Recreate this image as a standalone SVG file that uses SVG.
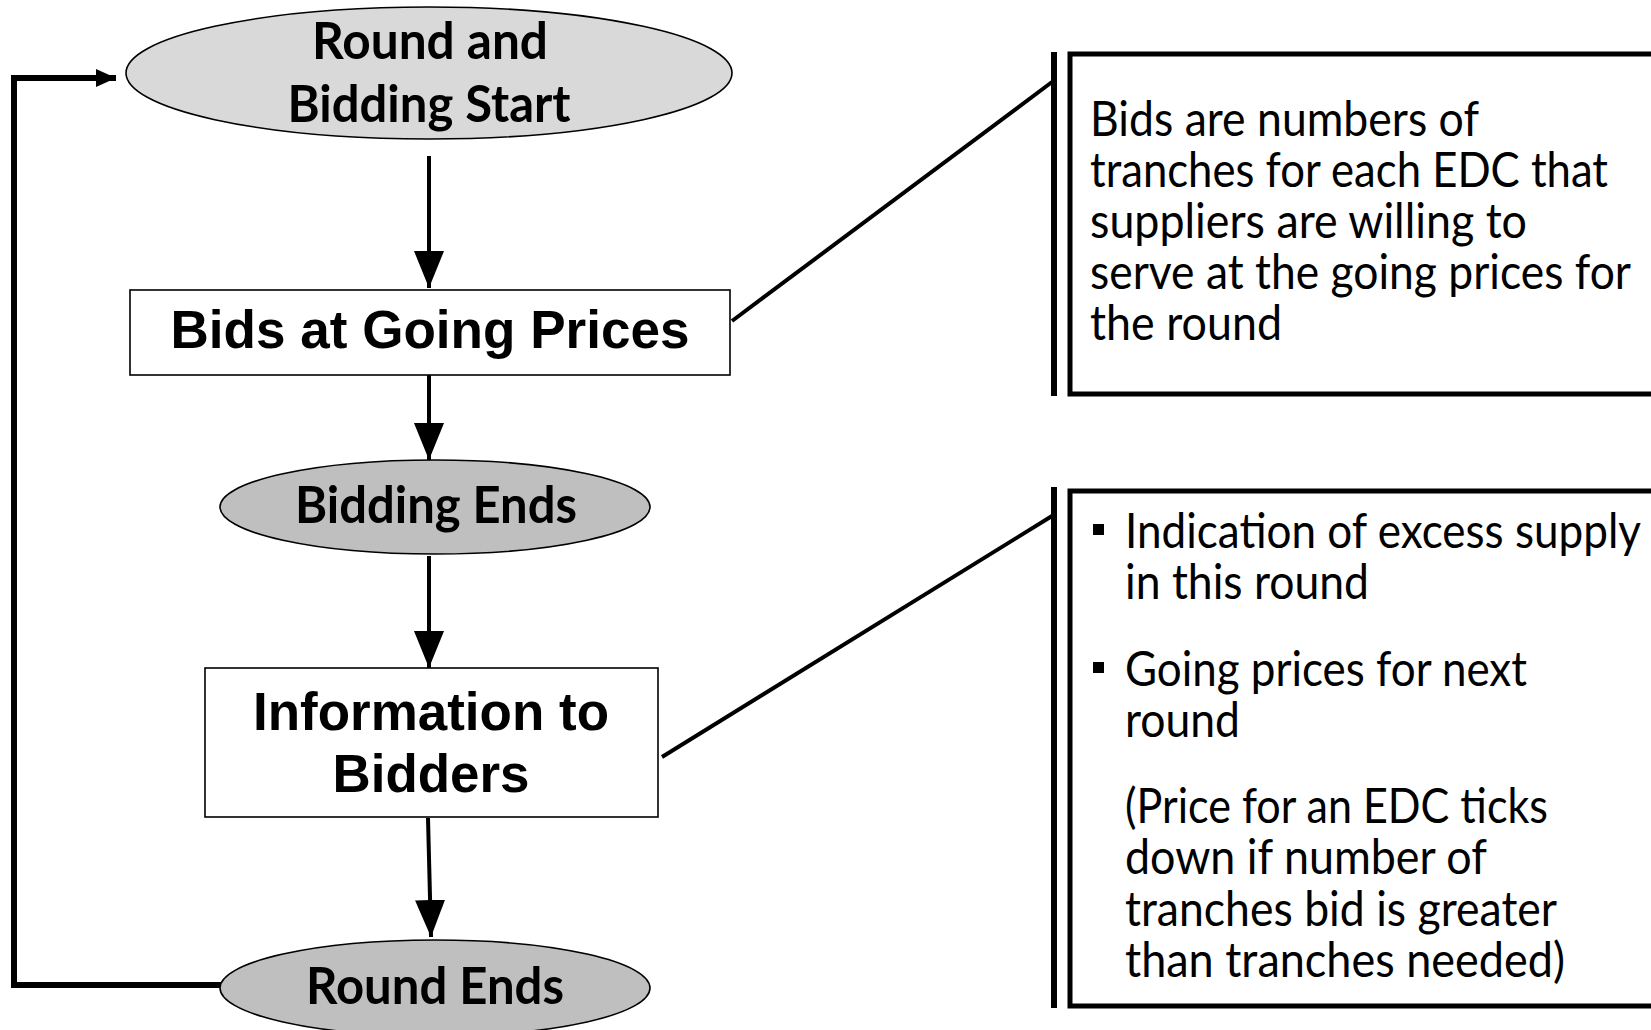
<svg xmlns="http://www.w3.org/2000/svg" width="1651" height="1030" viewBox="0 0 1651 1030">
<style>
.node{stroke:#000;stroke-width:1.6}
.t1{font-family:Lato,"Open Sans",sans-serif;font-weight:bold;font-size:52px;fill:#000;text-anchor:middle}
.t2{font-family:"Liberation Sans",Arial,sans-serif;font-weight:bold;font-size:53px;fill:#000;text-anchor:middle}
.t3{font-family:Lato,"Open Sans",sans-serif;font-size:48px;fill:#000}
.ar{stroke:#000;stroke-width:4;fill:none}
.cl{stroke:#000;stroke-width:4;fill:none}
.cb{stroke:#000;stroke-width:5;fill:#fff}
</style>
<defs>
<marker id="ah" markerUnits="userSpaceOnUse" markerWidth="37" markerHeight="30" viewBox="0 0 37 30" refX="37" refY="15" orient="auto"><path d="M0,0 L37,15 L0,30 z" fill="#000"/></marker>
<marker id="ahs" markerUnits="userSpaceOnUse" markerWidth="20" markerHeight="18" viewBox="0 0 20 18" refX="20" refY="9" orient="auto"><path d="M0,0 L20,9 L0,18 z" fill="#000"/></marker>
</defs>
<rect width="1651" height="1030" fill="#fff"/>
<g id="connectors">
<line class="ar" x1="429" y1="156" x2="429" y2="288" marker-end="url(#ah)"/>
<line class="ar" x1="429" y1="375" x2="429" y2="460" marker-end="url(#ah)"/>
<line class="ar" x1="429" y1="556" x2="429" y2="668" marker-end="url(#ah)"/>
<line class="ar" x1="428" y1="818" x2="431" y2="937" marker-end="url(#ah)"/>
<polyline fill="none" stroke="#000" stroke-width="6" points="221,985 14,985 14,78 116,78" marker-end="url(#ahs)"/>
<line class="cl" x1="732" y1="321" x2="1052" y2="82"/>
<line class="cl" x1="662" y1="757" x2="1052" y2="516"/>
</g>
<g id="start">
<ellipse class="node" cx="429" cy="73" rx="303" ry="66" fill="#d9d9d9"/>
<text class="t1" x="430" y="59" textLength="236" lengthAdjust="spacingAndGlyphs">Round and</text>
<text class="t1" x="429" y="122" textLength="283" lengthAdjust="spacingAndGlyphs">Bidding Start</text>
</g>
<g id="bids">
<rect class="node" x="130" y="290" width="600" height="85" fill="#fff"/>
<text class="t2" x="430" y="348" textLength="519" lengthAdjust="spacingAndGlyphs">Bids at Going Prices</text>
</g>
<g id="bidding-ends">
<ellipse class="node" cx="435" cy="507" rx="215" ry="47" fill="#bfbfbf"/>
<text class="t1" x="436" y="523" textLength="282" lengthAdjust="spacingAndGlyphs">Bidding Ends</text>
</g>
<g id="information">
<rect class="node" x="205" y="668" width="453" height="149" fill="#fff"/>
<text class="t2" x="431" y="730" textLength="356" lengthAdjust="spacingAndGlyphs">Information to</text>
<text class="t2" x="431" y="792" textLength="197" lengthAdjust="spacingAndGlyphs">Bidders</text>
</g>
<g id="round-ends">
<ellipse class="node" cx="435" cy="988" rx="215" ry="48" fill="#bfbfbf"/>
<text class="t1" x="435" y="1004" textLength="258" lengthAdjust="spacingAndGlyphs">Round Ends</text>
</g>
<g id="callout-bids">
<rect class="cb" x="1070" y="54" width="600" height="340"/>
<line stroke="#000" stroke-width="6" x1="1054" y1="52" x2="1054" y2="396"/>
<text class="t3" x="1090" y="136" textLength="389" lengthAdjust="spacingAndGlyphs">Bids are numbers of</text>
<text class="t3" x="1090" y="187" textLength="518" lengthAdjust="spacingAndGlyphs">tranches for each EDC that</text>
<text class="t3" x="1090" y="238" textLength="437" lengthAdjust="spacingAndGlyphs">suppliers are willing to</text>
<text class="t3" x="1090" y="289" textLength="541" lengthAdjust="spacingAndGlyphs">serve at the going prices for</text>
<text class="t3" x="1090" y="340" textLength="192" lengthAdjust="spacingAndGlyphs">the round</text>
</g>
<g id="callout-info">
<rect class="cb" x="1070" y="491" width="600" height="515"/>
<line stroke="#000" stroke-width="6" x1="1054" y1="487" x2="1054" y2="1008"/>
<rect x="1093" y="524" width="11" height="11" fill="#000"/>
<rect x="1093" y="662" width="11" height="11" fill="#000"/>
<text class="t3" x="1125" y="548" textLength="516" lengthAdjust="spacingAndGlyphs">Indication of excess supply</text>
<text class="t3" x="1125" y="599" textLength="244" lengthAdjust="spacingAndGlyphs">in this round</text>
<text class="t3" x="1125" y="686" textLength="402" lengthAdjust="spacingAndGlyphs">Going prices for next</text>
<text class="t3" x="1125" y="737" textLength="115" lengthAdjust="spacingAndGlyphs">round</text>
<text class="t3" x="1125" y="823" textLength="423" lengthAdjust="spacingAndGlyphs">(Price for an EDC ticks</text>
<text class="t3" x="1125" y="874" textLength="362" lengthAdjust="spacingAndGlyphs">down if number of</text>
<text class="t3" x="1125" y="926" textLength="432" lengthAdjust="spacingAndGlyphs">tranches bid is greater</text>
<text class="t3" x="1125" y="977" textLength="440" lengthAdjust="spacingAndGlyphs">than tranches needed)</text>
</g>
</svg>
